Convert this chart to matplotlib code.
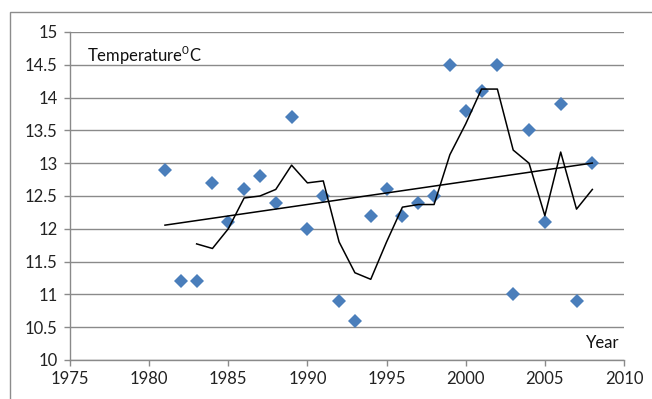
import numpy as np
import matplotlib
matplotlib.use("Agg")
import matplotlib.pyplot as plt
from matplotlib.patches import Rectangle

years = [1981, 1982, 1983, 1984, 1985, 1986, 1987, 1988, 1989, 1990,
         1991, 1992, 1993, 1994, 1995, 1996, 1997, 1998, 1999, 2000,
         2001, 2002, 2003, 2004, 2005, 2006, 2007, 2008]
temps = [12.9, 11.2, 11.2, 12.7, 12.1, 12.6, 12.8, 12.4, 13.7, 12.0,
         12.5, 10.9, 10.6, 12.2, 12.6, 12.2, 12.4, 12.5, 14.5, 13.8,
         14.1, 14.5, 11.0, 13.5, 12.1, 13.9, 10.9, 13.0]
ma_years = years[2:]
ma_temps = [11.77, 11.70, 12.00, 12.47, 12.50, 12.60, 12.97, 12.70, 12.73,
            11.80, 11.33, 11.23, 11.80, 12.33, 12.37, 12.37, 13.13, 13.60,
            14.13, 14.13, 13.20, 13.00, 12.20, 13.17, 12.30, 12.60]
xticks = [1975, 1980, 1985, 1990, 1995, 2000, 2005, 2010]
yticks = [10, 10.5, 11, 11.5, 12, 12.5, 13, 13.5, 14, 14.5, 15]

plt.rcParams['font.family'] = ['Lato', 'DejaVu Sans']

W, H = 652, 399
fig = plt.figure(figsize=(W/100, H/100), dpi=100)
# outer chart border
fig.patches.append(Rectangle((10/W, -0.1), 1.0, 1 - 12/H + 0.1,
                             transform=fig.transFigure, fill=False,
                             edgecolor='#8c8c8c', linewidth=1.0))

ax = fig.add_axes([70/W, 1 - 360/H, (624-70)/W, (360-32)/H])
ax.set_xlim(1975, 2010)
ax.set_ylim(10, 15)
ax.set_xticks(xticks)
ax.set_yticks(yticks)
ax.set_yticklabels([f"{v:g}" for v in yticks])
ax.grid(axis='y', color='#8a8a8a', linewidth=1.0)
ax.set_axisbelow(True)
for s in ['top', 'right']:
    ax.spines[s].set_visible(False)
for s in ['left', 'bottom']:
    ax.spines[s].set_color('#8a8a8a')
    ax.spines[s].set_linewidth(1.0)
ax.tick_params(axis='both', colors='#8a8a8a', labelcolor='#222222',
               labelsize=12, length=4, width=1.0)
ax.tick_params(axis='y', pad=5)
ax.tick_params(axis='x', pad=4)

ax.plot(years, temps, linestyle='none', marker='D', markersize=7.3,
        color='#4A7EBB', markeredgewidth=0, zorder=3)
ax.plot(ma_years, ma_temps, color='black', linewidth=1.1, zorder=4)
coef = np.polyfit(years, temps, 1)
tx = np.array([years[0], years[-1]])
ax.plot(tx, np.polyval(coef, tx), color='black', linewidth=1.1, zorder=4)

ax.text(87/W, 1 - 55/H, r"Temperature$^{\mathregular{0}}$C", transform=fig.transFigure,
        fontsize=12, color='#111111', va='center', ha='left')
ax.text(619/W, 1 - 343/H, "Year", transform=fig.transFigure,
        fontsize=12, color='#111111', va='center', ha='right')

fig.savefig("out.png", dpi=100)
